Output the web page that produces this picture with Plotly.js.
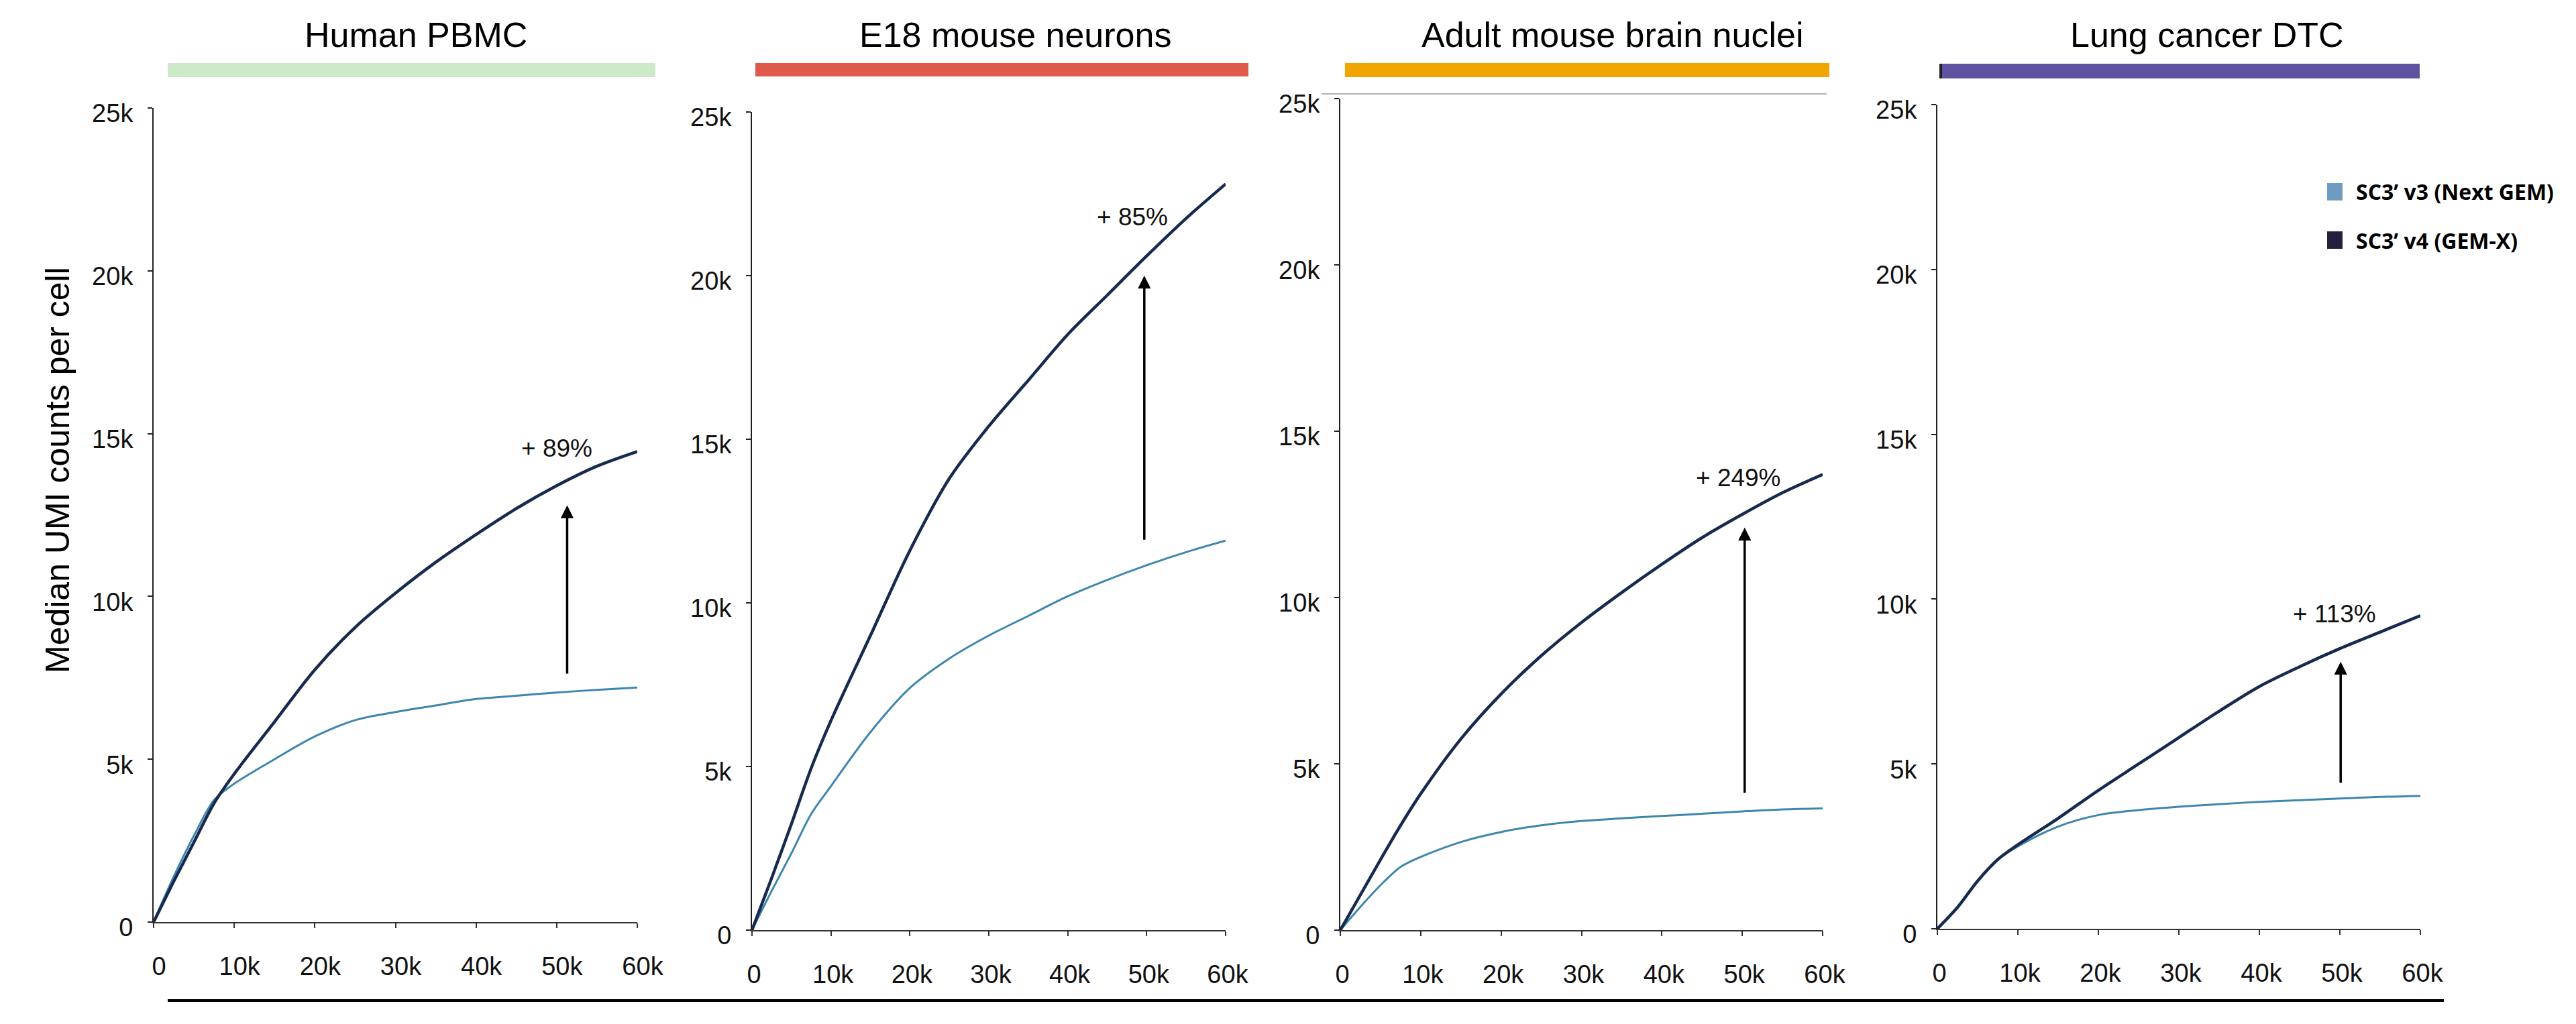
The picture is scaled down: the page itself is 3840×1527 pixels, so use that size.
<!DOCTYPE html>
<html>
<head>
<meta charset="utf-8">
<script src="https://cdn.plot.ly/plotly-3.0.1.min.js"></script>
<style>html,body{margin:0;padding:0;background:#fff;}#chart{width:3840px;height:1527px;}</style>
</head>
<body>
<div id="chart"></div>
<script>
// ---------- data ----------
const panelTitles = ['Human PBMC', 'E18 mouse neurons', 'Adult mouse brain nuclei', 'Lung cancer DTC'];
const seriesNames = ['SC3\u2019 v3 (Next GEM)', 'SC3\u2019 v4 (GEM-X)'];
const depth = [0, 2500, 5000, 7500, 10000, 15000, 20000, 25000, 30000, 35000, 40000, 45000, 50000, 55000, 60000];

const pbmcV3  = [0, 1400, 2650, 3750, 4250, 5000, 5700, 6200, 6450, 6650, 6850, 6950, 7050, 7130, 7200];
const pbmcV4  = [0, 1250, 2450, 3650, 4550, 6150, 7750, 9050, 10100, 11050, 11900, 12700, 13400, 14000, 14450];
const e18V3   = [0, 1200, 2350, 3550, 4400, 6050, 7400, 8300, 9000, 9600, 10200, 10700, 11150, 11550, 11900];
const e18V4   = [0, 1600, 3250, 4950, 6400, 9000, 11600, 13800, 15400, 16800, 18200, 19400, 20600, 21750, 22800];
const brainV3 = [0, 700, 1350, 1900, 2200, 2650, 2950, 3150, 3280, 3360, 3430, 3500, 3570, 3630, 3660];
const brainV4 = [0, 1060, 2120, 3150, 4100, 5750, 7100, 8250, 9250, 10150, 11000, 11800, 12500, 13150, 13700];
const lungV3  = [0, 650, 1450, 2100, 2500, 3100, 3450, 3600, 3700, 3780, 3850, 3900, 3950, 4000, 4030];
const lungV4  = [0, 650, 1450, 2100, 2550, 3350, 4200, 5000, 5800, 6600, 7350, 7950, 8500, 9000, 9500];

const pctLabels = ['+ 89%', '+ 85%', '+ 249%', '+ 113%'];
const pctLabelX = [50000, 48200, 49500, 49300];
const pctLabelY = [14550, 21800, 13600, 9550];
const arrowX    = [51300, 49700, 50300, 50100];
const arrowFrom = [7600, 11900, 4100, 4400];
const arrowTo   = [12800, 20000, 12100, 8100];

const xTickVals = [0, 10000, 20000, 30000, 40000, 50000, 60000];
const xTickText = ['0', '10k', '20k', '30k', '40k', '50k', '60k'];
const yTickVals = [0, 5000, 10000, 15000, 20000, 25000];
const yTickText = ['0', '5k', '10k', '15k', '20k', '25k'];
const yAxisTitle = 'Median UMI counts per cell';

const v3Series = [pbmcV3, e18V3, brainV3, lungV3];
const v4Series = [pbmcV4, e18V4, brainV4, lungV4];

// ---------- layout geometry (pixels) ----------
const W = 3840, H = 1527;
const PX = x => x / W, PY = y => 1 - y / H;
const panels = [
  {x0: 229,  x1: 950,  yb: 1375, yt: 161, bar: [250, 977, 94, 115],  barColor: '#cdeac8', titleX: 620},
  {x0: 1121, x1: 1827, yb: 1387, yt: 167, bar: [1126, 1861, 94, 114], barColor: '#e05a4c', titleX: 1513},
  {x0: 1998, x1: 2717, yb: 1387, yt: 147, bar: [2005, 2727, 94, 115], barColor: '#f0a500', titleX: 2403},
  {x0: 2888, x1: 3608, yb: 1385, yt: 156, bar: [2893, 3607, 95, 117], barColor: '#5f52a0', titleX: 3290}
];
const FONT = '"Liberation Sans Narrow", "Arial Narrow", "Liberation Sans", Arial, sans-serif';
const lightColor = '#3f86ad', darkColor = '#172a4e';

const traces = [];
const layout = {
  width: W, height: H,
  margin: {l: 0, r: 0, t: 0, b: 0},
  paper_bgcolor: '#ffffff', plot_bgcolor: 'rgba(0,0,0,0)',
  showlegend: false,
  font: {family: FONT, color: '#111'},
  annotations: [], shapes: []
};

panels.forEach((p, i) => {
  const n = i === 0 ? '' : String(i + 1);
  const xa = 'x' + n, ya = 'y' + n;
  traces.push({x: depth, y: v3Series[i], xaxis: xa, yaxis: ya, type: 'scatter', mode: 'lines',
    name: seriesNames[0], line: {color: lightColor, width: 3, shape: 'spline', smoothing: 0.9}, hoverinfo: 'skip'});
  traces.push({x: depth, y: v4Series[i], xaxis: xa, yaxis: ya, type: 'scatter', mode: 'lines',
    name: seriesNames[1], line: {color: darkColor, width: 4.5, shape: 'spline', smoothing: 0.9}, hoverinfo: 'skip'});
  layout['xaxis' + n] = {
    domain: [PX(p.x0), PX(p.x1)], anchor: ya, range: [0, 60000],
    tickvals: xTickVals, ticktext: xTickText, ticks: 'outside', ticklen: 7, tickwidth: 2, tickcolor: '#333',
    showline: true, linecolor: '#333', linewidth: 2, showgrid: false, zeroline: false,
    ticklabelstandoff: 24, ticklabelshift: i === 0 ? 8 : 3, tickfont: {family: FONT, size: 38, color: '#111'}
  };
  layout['yaxis' + n] = {
    domain: [PY(p.yb), PY(p.yt)], anchor: xa, range: [0, 25000],
    tickvals: yTickVals, ticktext: yTickText, ticks: 'outside', ticklen: 7, tickwidth: 2, tickcolor: '#222',
    showline: true, linecolor: '#222', linewidth: 2, showgrid: false, zeroline: false,
    ticklabelstandoff: 14, ticklabelshift: 8, tickfont: {family: FONT, size: 38, color: '#111'}
  };
  // colored header bar
  layout.shapes.push({type: 'rect', xref: 'paper', yref: 'paper',
    x0: PX(p.bar[0]), x1: PX(p.bar[1]), y0: PY(p.bar[3]), y1: PY(p.bar[2]),
    fillcolor: p.barColor, line: {width: 0}});
  // panel title
  layout.annotations.push({xref: 'paper', yref: 'paper', x: PX(p.titleX), y: PY(52),
    xanchor: 'center', yanchor: 'middle', showarrow: false, text: panelTitles[i],
    font: {family: FONT, size: 52, color: '#000'}});
  // arrow
  layout.annotations.push({xref: xa, yref: ya, axref: xa, ayref: ya,
    x: arrowX[i], y: arrowTo[i], ax: arrowX[i], ay: arrowFrom[i], text: '',
    showarrow: true, arrowhead: 2, arrowsize: 1.1, arrowwidth: 3.5, arrowcolor: '#000'});
  // percentage label
  layout.annotations.push({xref: xa, yref: ya, x: pctLabelX[i], y: pctLabelY[i],
    xanchor: 'center', yanchor: 'middle', showarrow: false, text: pctLabels[i],
    font: {family: FONT, size: 37, color: '#111'}});
});

// dark tick at the start of the purple bar
layout.shapes.push({type: 'rect', xref: 'paper', yref: 'paper', x0: PX(2891), x1: PX(2895), y0: PY(117), y1: PY(95),
  fillcolor: '#222', line: {width: 0}});
// thin grey rule above panel 3
layout.shapes.push({type: 'line', xref: 'paper', yref: 'paper', x0: PX(1970), x1: PX(2723), y0: PY(140), y1: PY(140),
  line: {color: '#9a9a9a', width: 1.5}});
// bottom black rule
layout.shapes.push({type: 'line', xref: 'paper', yref: 'paper', x0: PX(250), x1: PX(3643), y0: PY(1492), y1: PY(1492),
  line: {color: '#000', width: 4}});

// y-axis title
layout.annotations.push({xref: 'paper', yref: 'paper', x: PX(86), y: PY(701), xanchor: 'center', yanchor: 'middle',
  showarrow: false, textangle: -90, text: yAxisTitle, font: {family: FONT, size: 50, color: '#000'}});

// legend (squares + bold text)
const legendColors = ['#6f9bc0', '#23213f'];
const legendRows = [286, 358];
legendRows.forEach((cy, k) => {
  layout.shapes.push({type: 'rect', xref: 'paper', yref: 'paper', x0: PX(3469), x1: PX(3492), y0: PY(cy + 13), y1: PY(cy - 13),
    fillcolor: legendColors[k], line: {width: 0}});
  layout.annotations.push({xref: 'paper', yref: 'paper', x: PX(3510), y: PY(cy), xanchor: 'left', yanchor: 'middle',
    showarrow: false, text: '<b>' + seriesNames[k] + '</b>', font: {family: '"Open Sans", "Noto Sans", sans-serif', size: 32, color: '#000'}});
});

Plotly.newPlot('chart', traces, layout, {staticPlot: true, displayModeBar: false});
</script>
</body>
</html>
